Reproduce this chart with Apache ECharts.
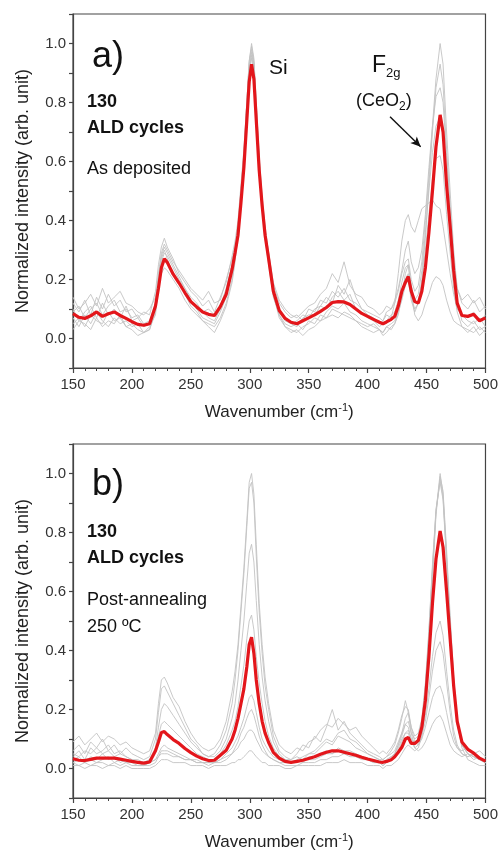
<!DOCTYPE html>
<html>
<head>
<meta charset="utf-8">
<script src="https://cdn.jsdelivr.net/npm/echarts@6/dist/echarts.min.js"></script>
<style>
  html, body { margin: 0; padding: 0; background: #fff; }
  #chart { width: 501px; height: 852px; }
</style>
</head>
<body>
<div id="chart"></div>
<script>
// wavenumber grid (cm-1), finer around the peaks
const wn = [150, 155, 160, 165, 170, 175, 180, 185, 190, 195,
  200, 205, 210, 215, 220, 222.5, 225, 227.5, 230, 235,
  240, 245, 250, 255, 260, 265, 270, 275, 280, 285,
  287.5, 290, 292.5, 295, 297.5, 299.5, 301.5, 303.5, 305.5, 308,
  310.5, 313, 316, 320, 325, 330, 335, 340, 345, 350,
  355, 360, 365, 370, 375, 380, 385, 390, 395, 400,
  405, 410, 413, 416, 420, 423, 426, 429, 432, 434.5,
  437, 440, 443, 446, 449, 452, 455, 458, 461.5, 464,
  467, 470, 473, 476, 480, 485, 490, 495, 500]

// a) as deposited - mean spectrum (red)
const redA = [0.084, 0.072, 0.068, 0.077, 0.09, 0.075, 0.084, 0.09, 0.078, 0.068,
  0.057, 0.048, 0.045, 0.05, 0.11, 0.17, 0.24, 0.27, 0.258, 0.218,
  0.188, 0.155, 0.125, 0.107, 0.09, 0.082, 0.078, 0.108, 0.15, 0.235,
  0.29, 0.35, 0.46, 0.58, 0.74, 0.87, 0.93, 0.88, 0.74, 0.57,
  0.45, 0.35, 0.27, 0.16, 0.095, 0.068, 0.055, 0.05, 0.06, 0.07,
  0.08, 0.092, 0.105, 0.122, 0.125, 0.124, 0.115, 0.1, 0.085, 0.075,
  0.065, 0.055, 0.05, 0.056, 0.065, 0.075, 0.11, 0.16, 0.19, 0.21,
  0.16, 0.125, 0.12, 0.16, 0.24, 0.36, 0.5, 0.65, 0.758, 0.7,
  0.52, 0.38, 0.23, 0.12, 0.078, 0.075, 0.082, 0.06, 0.07]

// a) single spectra (gray)
const grayA1 = [0.12, 0.09, 0.13, 0.08, 0.14, 0.10, 0.15, 0.11, 0.13, 0.09,
  0.10, 0.07, 0.09, 0.08, 0.16, 0.25, 0.31, 0.34, 0.31, 0.27,
  0.22, 0.19, 0.16, 0.14, 0.11, 0.13, 0.09, 0.14, 0.19, 0.28,
  0.33, 0.40, 0.52, 0.64, 0.80, 0.94, 1.0, 0.95, 0.80, 0.62,
  0.48, 0.38, 0.29, 0.18, 0.12, 0.09, 0.07, 0.08, 0.06, 0.10,
  0.09, 0.13, 0.12, 0.16, 0.14, 0.17, 0.13, 0.12, 0.10, 0.09,
  0.08, 0.07, 0.06, 0.09, 0.10, 0.12, 0.16, 0.22, 0.26, 0.27,
  0.20, 0.16, 0.18, 0.26, 0.40, 0.55, 0.72, 0.88, 1.0, 0.93,
  0.70, 0.50, 0.30, 0.17, 0.12, 0.10, 0.13, 0.09, 0.11]
const grayA2 = [0.05, 0.07, 0.04, 0.08, 0.06, 0.05, 0.09, 0.06, 0.07, 0.04,
  0.05, 0.03, 0.02, 0.04, 0.08, 0.18, 0.26, 0.29, 0.28, 0.24,
  0.20, 0.17, 0.13, 0.10, 0.07, 0.06, 0.05, 0.09, 0.14, 0.22,
  0.28, 0.36, 0.48, 0.60, 0.77, 0.91, 0.97, 0.92, 0.77, 0.58,
  0.45, 0.34, 0.25, 0.14, 0.08, 0.04, 0.03, 0.02, 0.04, 0.05,
  0.07, 0.06, 0.09, 0.11, 0.10, 0.12, 0.09, 0.08, 0.06, 0.05,
  0.04, 0.03, 0.02, 0.04, 0.05, 0.06, 0.10, 0.15, 0.20, 0.22,
  0.14, 0.10, 0.12, 0.20, 0.34, 0.52, 0.70, 0.85, 0.93, 0.86,
  0.64, 0.44, 0.26, 0.13, 0.06, 0.04, 0.06, 0.03, 0.04]
const grayA3 = [0.09, 0.11, 0.07, 0.10, 0.12, 0.08, 0.11, 0.13, 0.09, 0.10,
  0.07, 0.08, 0.05, 0.06, 0.12, 0.20, 0.27, 0.30, 0.27, 0.22,
  0.19, 0.15, 0.12, 0.10, 0.09, 0.07, 0.06, 0.10, 0.16, 0.25,
  0.30, 0.37, 0.49, 0.61, 0.78, 0.90, 0.95, 0.90, 0.75, 0.57,
  0.44, 0.35, 0.26, 0.15, 0.10, 0.07, 0.05, 0.06, 0.08, 0.07,
  0.10, 0.11, 0.14, 0.12, 0.18, 0.15, 0.20, 0.14, 0.10, 0.08,
  0.07, 0.05, 0.06, 0.08, 0.07, 0.12, 0.22, 0.33, 0.40, 0.42,
  0.38, 0.36, 0.40, 0.44, 0.45, 0.46, 0.47, 0.45, 0.44, 0.38,
  0.30, 0.22, 0.15, 0.10, 0.08, 0.06, 0.05, 0.07, 0.04]
const grayA4 = [0.07, 0.04, 0.08, 0.05, 0.09, 0.06, 0.04, 0.07, 0.05, 0.06,
  0.04, 0.05, 0.02, 0.03, 0.10, 0.19, 0.22, 0.24, 0.23, 0.20,
  0.17, 0.13, 0.10, 0.08, 0.06, 0.05, 0.04, 0.07, 0.12, 0.20,
  0.27, 0.36, 0.50, 0.63, 0.80, 0.93, 0.98, 0.93, 0.78, 0.60,
  0.46, 0.36, 0.27, 0.15, 0.08, 0.05, 0.04, 0.05, 0.03, 0.06,
  0.05, 0.08, 0.07, 0.10, 0.09, 0.08, 0.07, 0.06, 0.05, 0.04,
  0.05, 0.03, 0.02, 0.04, 0.03, 0.05, 0.08, 0.14, 0.22, 0.25,
  0.16, 0.08, 0.06, 0.08, 0.12, 0.15, 0.19, 0.21, 0.20, 0.18,
  0.13, 0.09, 0.06, 0.05, 0.04, 0.02, 0.04, 0.01, 0.03]
const grayA5 = [0.14, 0.10, 0.12, 0.15, 0.11, 0.17, 0.12, 0.14, 0.16, 0.12,
  0.11, 0.09, 0.08, 0.10, 0.14, 0.22, 0.29, 0.32, 0.30, 0.26,
  0.23, 0.20, 0.17, 0.15, 0.13, 0.16, 0.12, 0.13, 0.20, 0.27,
  0.31, 0.38, 0.48, 0.58, 0.73, 0.86, 0.93, 0.88, 0.74, 0.57,
  0.45, 0.37, 0.29, 0.19, 0.13, 0.10, 0.08, 0.07, 0.09, 0.11,
  0.12, 0.15, 0.17, 0.22, 0.19, 0.26, 0.18, 0.15, 0.14, 0.11,
  0.10, 0.08, 0.09, 0.11, 0.10, 0.13, 0.17, 0.23, 0.30, 0.33,
  0.26, 0.22, 0.24, 0.30, 0.42, 0.58, 0.72, 0.82, 0.85, 0.80,
  0.62, 0.44, 0.27, 0.17, 0.13, 0.15, 0.12, 0.14, 0.10]
const grayA6 = [0.03, 0.06, 0.05, 0.03, 0.07, 0.04, 0.06, 0.05, 0.08, 0.04,
  0.03, 0.01, 0.02, 0.03, 0.09, 0.17, 0.24, 0.27, 0.26, 0.22,
  0.19, 0.15, 0.11, 0.09, 0.06, 0.04, 0.02, 0.06, 0.11, 0.19,
  0.26, 0.35, 0.49, 0.62, 0.80, 0.94, 0.99, 0.94, 0.80, 0.61,
  0.47, 0.37, 0.27, 0.15, 0.07, 0.04, 0.02, 0.03, 0.01, 0.03,
  0.04, 0.06, 0.07, 0.08, 0.07, 0.09, 0.08, 0.06, 0.04, 0.03,
  0.02, 0.03, 0.01, 0.02, 0.04, 0.05, 0.09, 0.13, 0.18, 0.20,
  0.13, 0.09, 0.12, 0.19, 0.30, 0.42, 0.54, 0.61, 0.62, 0.57,
  0.42, 0.29, 0.17, 0.09, 0.04, 0.03, 0.02, 0.04, 0.02]
const grayA7 = [0.10, 0.06, 0.09, 0.11, 0.07, 0.12, 0.08, 0.10, 0.07, 0.11,
  0.06, 0.07, 0.04, 0.05, 0.11, 0.21, 0.28, 0.31, 0.29, 0.25,
  0.21, 0.17, 0.14, 0.12, 0.09, 0.10, 0.08, 0.11, 0.17, 0.25,
  0.31, 0.38, 0.50, 0.62, 0.78, 0.91, 0.96, 0.91, 0.77, 0.59,
  0.46, 0.36, 0.27, 0.16, 0.10, 0.06, 0.05, 0.04, 0.07, 0.08,
  0.08, 0.11, 0.10, 0.14, 0.16, 0.13, 0.15, 0.10, 0.09, 0.07,
  0.06, 0.04, 0.05, 0.06, 0.08, 0.09, 0.13, 0.19, 0.24, 0.25,
  0.18, 0.13, 0.15, 0.23, 0.36, 0.50, 0.63, 0.72, 0.75, 0.70,
  0.53, 0.37, 0.22, 0.12, 0.08, 0.07, 0.09, 0.06, 0.08]

// b) post-annealing 250 C - mean spectrum (red)
const redB = [0.033, 0.028, 0.027, 0.031, 0.035, 0.035, 0.035, 0.035, 0.032, 0.028,
  0.024, 0.021, 0.018, 0.022, 0.06, 0.09, 0.122, 0.125, 0.115, 0.098,
  0.085, 0.068, 0.054, 0.042, 0.033, 0.027, 0.028, 0.045, 0.062, 0.1,
  0.13, 0.17, 0.22, 0.27, 0.345, 0.42, 0.445, 0.39, 0.3, 0.22,
  0.16, 0.12, 0.088, 0.055, 0.035, 0.024, 0.021, 0.024, 0.028, 0.034,
  0.04, 0.048, 0.055, 0.06, 0.06, 0.055, 0.05, 0.045, 0.038, 0.032,
  0.027, 0.022, 0.021, 0.024, 0.03, 0.04, 0.055, 0.072, 0.1, 0.105,
  0.085, 0.085, 0.095, 0.14, 0.23, 0.38, 0.56, 0.71, 0.805, 0.75,
  0.6, 0.44, 0.28, 0.16, 0.09, 0.065, 0.052, 0.035, 0.025]

// b) single spectra (gray)
const grayB1 = [0.09, 0.11, 0.08, 0.10, 0.12, 0.09, 0.11, 0.10, 0.08, 0.09,
  0.07, 0.06, 0.05, 0.06, 0.12, 0.22, 0.30, 0.31, 0.29, 0.24,
  0.21, 0.16, 0.12, 0.09, 0.07, 0.06, 0.07, 0.10, 0.16, 0.26,
  0.33, 0.42, 0.55, 0.68, 0.84, 0.97, 1.0, 0.93, 0.76, 0.56,
  0.42, 0.31, 0.22, 0.13, 0.08, 0.06, 0.05, 0.07, 0.06, 0.09,
  0.10, 0.13, 0.15, 0.14, 0.17, 0.15, 0.13, 0.14, 0.11, 0.09,
  0.07, 0.05, 0.06, 0.05, 0.07, 0.09, 0.13, 0.18, 0.21, 0.20,
  0.14, 0.09, 0.08, 0.10, 0.14, 0.19, 0.24, 0.27, 0.28, 0.25,
  0.19, 0.13, 0.09, 0.07, 0.06, 0.07, 0.05, 0.06, 0.04]
const grayB2 = [0.06, 0.08, 0.05, 0.09, 0.07, 0.10, 0.06, 0.08, 0.05, 0.07,
  0.05, 0.04, 0.03, 0.04, 0.10, 0.19, 0.27, 0.28, 0.26, 0.22,
  0.18, 0.14, 0.10, 0.08, 0.05, 0.04, 0.05, 0.08, 0.13, 0.22,
  0.30, 0.40, 0.53, 0.66, 0.82, 0.95, 0.97, 0.90, 0.72, 0.53,
  0.39, 0.28, 0.20, 0.11, 0.06, 0.04, 0.03, 0.05, 0.08, 0.07,
  0.11, 0.09, 0.14, 0.20, 0.13, 0.16, 0.12, 0.10, 0.08, 0.06,
  0.05, 0.04, 0.03, 0.04, 0.06, 0.08, 0.12, 0.17, 0.23, 0.19,
  0.12, 0.07, 0.06, 0.07, 0.09, 0.12, 0.15, 0.17, 0.18, 0.16,
  0.12, 0.08, 0.06, 0.05, 0.04, 0.05, 0.03, 0.04, 0.02]
const grayB3 = [0.05, 0.04, 0.06, 0.05, 0.07, 0.05, 0.06, 0.04, 0.05, 0.04,
  0.03, 0.03, 0.02, 0.03, 0.07, 0.14, 0.20, 0.22, 0.21, 0.18,
  0.15, 0.12, 0.09, 0.07, 0.05, 0.04, 0.04, 0.06, 0.10, 0.17,
  0.22, 0.30, 0.40, 0.50, 0.63, 0.73, 0.76, 0.70, 0.57, 0.42,
  0.31, 0.23, 0.16, 0.09, 0.05, 0.03, 0.03, 0.04, 0.03, 0.05,
  0.06, 0.08, 0.10, 0.09, 0.12, 0.13, 0.10, 0.09, 0.07, 0.05,
  0.04, 0.03, 0.03, 0.04, 0.05, 0.06, 0.09, 0.12, 0.15, 0.14,
  0.10, 0.08, 0.09, 0.12, 0.18, 0.27, 0.38, 0.46, 0.50, 0.45,
  0.33, 0.22, 0.13, 0.08, 0.05, 0.04, 0.05, 0.03, 0.02]
const grayB4 = [0.02, 0.01, 0.02, 0.01, 0.02, 0.02, 0.01, 0.02, 0.01, 0.02,
  0.01, 0.01, 0.01, 0.01, 0.02, 0.04, 0.06, 0.06, 0.06, 0.05,
  0.04, 0.03, 0.03, 0.02, 0.02, 0.01, 0.02, 0.02, 0.03, 0.05,
  0.07, 0.09, 0.12, 0.14, 0.17, 0.19, 0.20, 0.18, 0.15, 0.11,
  0.08, 0.06, 0.04, 0.03, 0.02, 0.01, 0.01, 0.01, 0.02, 0.02,
  0.02, 0.03, 0.03, 0.04, 0.04, 0.05, 0.04, 0.04, 0.03, 0.03,
  0.02, 0.02, 0.01, 0.02, 0.03, 0.04, 0.06, 0.09, 0.12, 0.13,
  0.10, 0.09, 0.10, 0.15, 0.27, 0.45, 0.67, 0.87, 1.0, 0.93,
  0.72, 0.50, 0.30, 0.16, 0.08, 0.05, 0.04, 0.03, 0.02]
const grayB5 = [0.01, 0.01, 0.00, 0.01, 0.01, 0.00, 0.01, 0.01, 0.00, 0.01,
  0.00, 0.00, 0.00, 0.00, 0.01, 0.02, 0.03, 0.03, 0.03, 0.02,
  0.02, 0.02, 0.01, 0.01, 0.01, 0.00, 0.01, 0.01, 0.01, 0.02,
  0.02, 0.03, 0.03, 0.04, 0.05, 0.06, 0.06, 0.05, 0.04, 0.03,
  0.02, 0.02, 0.01, 0.01, 0.01, 0.00, 0.00, 0.01, 0.01, 0.01,
  0.01, 0.01, 0.02, 0.02, 0.02, 0.03, 0.02, 0.02, 0.02, 0.01,
  0.01, 0.01, 0.00, 0.01, 0.01, 0.02, 0.03, 0.05, 0.07, 0.08,
  0.07, 0.06, 0.07, 0.11, 0.22, 0.40, 0.63, 0.86, 0.99, 0.94,
  0.74, 0.52, 0.31, 0.16, 0.07, 0.03, 0.02, 0.01, 0.01]
const grayB6 = [0.03, 0.04, 0.02, 0.04, 0.03, 0.05, 0.03, 0.04, 0.02, 0.03,
  0.02, 0.02, 0.01, 0.02, 0.03, 0.04, 0.05, 0.05, 0.05, 0.04,
  0.04, 0.03, 0.03, 0.02, 0.02, 0.02, 0.02, 0.03, 0.04, 0.05,
  0.06, 0.07, 0.09, 0.10, 0.12, 0.13, 0.13, 0.12, 0.10, 0.08,
  0.06, 0.05, 0.04, 0.03, 0.02, 0.02, 0.02, 0.03, 0.02, 0.04,
  0.04, 0.05, 0.06, 0.05, 0.07, 0.06, 0.06, 0.05, 0.04, 0.03,
  0.03, 0.02, 0.02, 0.03, 0.04, 0.05, 0.08, 0.11, 0.15, 0.16,
  0.12, 0.10, 0.11, 0.16, 0.28, 0.46, 0.68, 0.87, 0.98, 0.92,
  0.71, 0.49, 0.29, 0.15, 0.08, 0.05, 0.04, 0.03, 0.02]
const grayB7 = [0.04, 0.06, 0.03, 0.07, 0.05, 0.06, 0.08, 0.05, 0.06, 0.04,
  0.03, 0.02, 0.02, 0.03, 0.06, 0.11, 0.15, 0.16, 0.15, 0.13,
  0.11, 0.09, 0.07, 0.05, 0.04, 0.03, 0.03, 0.05, 0.08, 0.13,
  0.16, 0.21, 0.28, 0.35, 0.44, 0.50, 0.52, 0.47, 0.38, 0.29,
  0.22, 0.16, 0.11, 0.07, 0.04, 0.03, 0.02, 0.03, 0.04, 0.05,
  0.05, 0.07, 0.09, 0.08, 0.11, 0.10, 0.09, 0.07, 0.06, 0.05,
  0.04, 0.03, 0.02, 0.03, 0.04, 0.05, 0.07, 0.10, 0.12, 0.12,
  0.09, 0.07, 0.08, 0.11, 0.16, 0.24, 0.33, 0.40, 0.43, 0.39,
  0.29, 0.19, 0.11, 0.07, 0.05, 0.04, 0.05, 0.03, 0.02]
const grayB8 = [0.02, 0.03, 0.02, 0.03, 0.02, 0.03, 0.04, 0.02, 0.03, 0.02,
  0.02, 0.01, 0.01, 0.02, 0.03, 0.05, 0.07, 0.08, 0.07, 0.06,
  0.05, 0.04, 0.03, 0.03, 0.02, 0.02, 0.02, 0.03, 0.05, 0.07,
  0.09, 0.11, 0.14, 0.17, 0.21, 0.24, 0.25, 0.23, 0.19, 0.14,
  0.10, 0.08, 0.06, 0.04, 0.03, 0.02, 0.02, 0.02, 0.03, 0.03,
  0.03, 0.04, 0.05, 0.05, 0.06, 0.05, 0.05, 0.04, 0.04, 0.03,
  0.02, 0.02, 0.01, 0.02, 0.03, 0.05, 0.08, 0.12, 0.17, 0.19,
  0.14, 0.11, 0.12, 0.17, 0.29, 0.47, 0.69, 0.88, 0.97, 0.91,
  0.70, 0.48, 0.28, 0.15, 0.08, 0.05, 0.04, 0.03, 0.02]

// axis tick labels
const xTicks = [150, 200, 250, 300, 350, 400, 450, 500]
const yTickLabels = ['0.0', '0.2', '0.4', '0.6', '0.8', '1.0']
// arrow pointing at the F2g peak (data coords)
const arrowA = [[419, 0.752], [445, 0.65]]

const grayAList = [grayA1, grayA2, grayA3, grayA4, grayA5, grayA6, grayA7]
const grayBList = [grayB1, grayB2, grayB3, grayB4, grayB5, grayB6, grayB7, grayB8]

const FONT = '"Liberation Sans", Arial, sans-serif'
const AXIS_COLOR = '#444'
const pairs = arr => wn.map((x, i) => [x, arr[i]])

function xAxisFor (idx) {
  return {
    type: 'value',
    gridIndex: idx,
    min: xTicks[0],
    max: xTicks[xTicks.length - 1],
    interval: 50,
    name: '{n|Wavenumber (cm}{s|-1}{n|)}',
    nameLocation: 'middle',
    nameGap: 34,
    nameTextStyle: {
      rich: {
        n: { fontFamily: FONT, fontSize: 17, color: '#222', lineHeight: 21 },
        s: { fontFamily: FONT, fontSize: 11, color: '#222', lineHeight: 11, verticalAlign: 'top' }
      }
    },
    axisLine: { show: true, onZero: false, lineStyle: { color: AXIS_COLOR, width: 1.2 } },
    axisTick: { show: true, inside: false, length: 5, lineStyle: { color: AXIS_COLOR, width: 1.2 } },
    minorTick: { show: true, splitNumber: 5, length: 3, lineStyle: { color: AXIS_COLOR, width: 1 } },
    axisLabel: { fontFamily: FONT, fontSize: 15, color: '#333', margin: 9 },
    splitLine: { show: false }
  }
}

function yAxisFor (idx) {
  return {
    type: 'value',
    gridIndex: idx,
    min: -0.1,
    max: 1.1,
    interval: 0.1,
    name: 'Normalized intensity (arb. unit)',
    nameLocation: 'middle',
    nameGap: 41,
    nameTextStyle: { fontFamily: FONT, fontSize: 18, color: '#222' },
    axisLine: { show: true, lineStyle: { color: AXIS_COLOR, width: 1.2 } },
    axisTick: { show: true, inside: false, length: 4, lineStyle: { color: AXIS_COLOR, width: 1.2 } },
    axisLabel: {
      fontFamily: FONT,
      fontSize: 15,
      color: '#333',
      margin: 7,
      formatter: v => {
        const s = (Math.round(v * 10) / 10).toFixed(1)
        return yTickLabels.includes(s) ? s : ''
      }
    },
    splitLine: { show: false }
  }
}

function graySeries (list, idx) {
  return list.map((arr, k) => ({
    name: 'spectrum ' + (k + 1),
    type: 'line',
    xAxisIndex: idx,
    yAxisIndex: idx,
    data: pairs(arr),
    showSymbol: false,
    lineStyle: { color: '#c3c3c3', width: 0.9 },
    z: 2
  }))
}

function redSeries (arr, idx, extra) {
  return Object.assign({
    name: 'mean',
    type: 'line',
    xAxisIndex: idx,
    yAxisIndex: idx,
    data: pairs(arr),
    showSymbol: false,
    lineStyle: { color: '#e3161b', width: 3.2 },
    z: 5
  }, extra || {})
}

function label (x, y, text, size, bold) {
  return {
    type: 'text',
    x: x,
    y: y,
    style: {
      text: text,
      fontFamily: FONT,
      fontSize: size,
      fontWeight: bold ? 'bold' : 'normal',
      fill: '#111',
      align: 'left',
      verticalAlign: 'middle'
    }
  }
}

function richLabel (x, y, text, rich) {
  return {
    type: 'text',
    x: x,
    y: y,
    style: { text: text, rich: rich, align: 'left', verticalAlign: 'middle' }
  }
}

const chart = echarts.init(document.getElementById('chart'))
chart.setOption({
  animation: false,
  backgroundColor: '#fff',
  grid: [
    { left: 73, top: 14, width: 415, height: 354, show: true, borderColor: AXIS_COLOR, borderWidth: 1.2 },
    { left: 73, top: 444, width: 415, height: 354, show: true, borderColor: AXIS_COLOR, borderWidth: 1.2 }
  ],
  xAxis: [xAxisFor(0), xAxisFor(1)],
  yAxis: [yAxisFor(0), yAxisFor(1)],
  series: [
    ...graySeries(grayAList, 0),
    redSeries(redA, 0, {
      markLine: {
        silent: true,
        symbol: ['none', 'arrow'],
        symbolSize: [7, 10],
        label: { show: false },
        lineStyle: { color: '#111', width: 1.4, type: 'solid' },
        data: [[{ coord: arrowA[0] }, { coord: arrowA[1] }]]
      }
    }),
    ...graySeries(grayBList, 1),
    redSeries(redB, 1)
  ],
  graphic: [
    label(92, 57, 'a)', 36, false),
    label(269, 68, 'Si', 21, false),
    richLabel(372, 66, '{f|F}{s|2g}', {
      f: { fontFamily: FONT, fontSize: 23, fill: '#111', lineHeight: 28 },
      s: { fontFamily: FONT, fontSize: 13, fill: '#111', lineHeight: 13, verticalAlign: 'bottom' }
    }),
    richLabel(356, 101, '{f|(CeO}{s|2}{f|)}', {
      f: { fontFamily: FONT, fontSize: 18, fill: '#111', lineHeight: 24 },
      s: { fontFamily: FONT, fontSize: 12, fill: '#111', lineHeight: 12, verticalAlign: 'bottom' }
    }),
    label(87, 102, '130', 18, true),
    label(87, 128, 'ALD cycles', 18, true),
    label(87, 169, 'As deposited', 18, false),

    label(92, 485, 'b)', 36, false),
    label(87, 532, '130', 18, true),
    label(87, 558, 'ALD cycles', 18, true),
    label(87, 600, 'Post-annealing', 18, false),
    label(87, 627, '250 ºC', 18, false)
  ]
})
</script>
</body>
</html>
